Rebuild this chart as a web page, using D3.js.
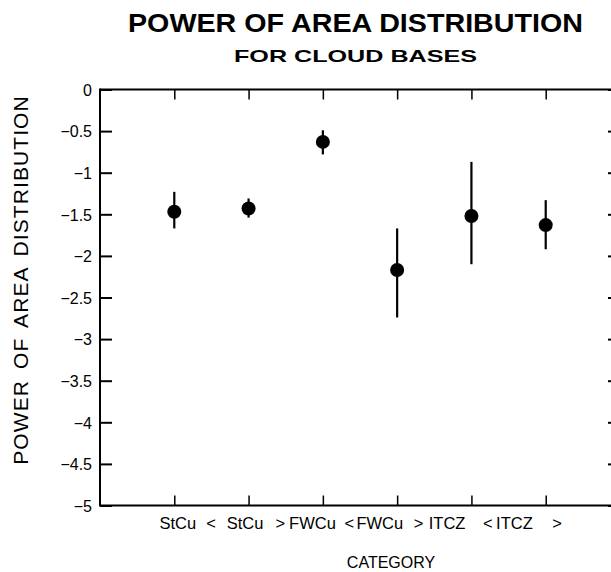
<!DOCTYPE html>
<html>
<head>
<meta charset="utf-8">
<script src="https://cdn.jsdelivr.net/npm/d3@7"></script>
<style>
  html, body { margin: 0; padding: 0; background: #fff; }
  svg { display: block; font-family: "Liberation Sans", Arial, Helvetica, sans-serif; }
</style>
</head>
<body>
<svg id="chart" width="611" height="572"></svg>
<script>
// ---- Data ----
const categories = ["StCu <", "StCu >", "FWCu <", "FWCu >", "ITCZ <", "ITCZ >"];
const powerValues = [-1.47, -1.43, -0.63, -2.17, -1.52, -1.63];
const errorLow    = [-1.67, -1.54, -0.78, -2.74, -2.10, -1.92];
const errorHigh   = [-1.23, -1.31, -0.49, -1.67, -0.87, -1.33];
const yTickValues = [0, -0.5, -1, -1.5, -2, -2.5, -3, -3.5, -4, -4.5, -5];
const titleText = "POWER OF AREA DISTRIBUTION";
const subtitleText = "FOR CLOUD BASES";
const yAxisTitle = "POWER OF AREA DISTRIBUTION";
const xAxisTitle = "CATEGORY";

(function () {
// ---- Layout ----
const svg = d3.select("#chart");
const pLeft = 100, pRight = 620, pTop = 89.5, pBottom = 505.5;

const x = d3.scaleLinear().domain([0, categories.length + 1]).range([pLeft, pRight]);
const y = d3.scaleLinear().domain([0, -5]).range([pTop, pBottom]);
// the typeset category labels sit slightly off the ticks: name and symbol placed separately
const nameX = d3.scalePoint().domain(categories).range([177.8, 514.4]);
const symX = d3.scalePoint().domain(categories).range([211, 557]);

const fmt = v => (v < 0 ? "\u2212" : "") + d3.format("")(Math.abs(v));

// Frame lines
const frame = svg.append("g").attr("stroke", "#000").attr("stroke-width", 2).attr("fill", "none");
frame.append("line").attr("x1", pLeft).attr("x2", pRight).attr("y1", pTop).attr("y2", pTop);
frame.append("line").attr("x1", pLeft).attr("x2", pRight).attr("y1", pBottom).attr("y2", pBottom);
frame.append("line").attr("x1", pLeft).attr("x2", pLeft).attr("y1", pTop - 1).attr("y2", pBottom + 1);
frame.append("line").attr("x1", pRight).attr("x2", pRight).attr("y1", pTop).attr("y2", pBottom);

// Left axis (ticks inward)
const yAxisL = d3.axisLeft(y).tickValues(yTickValues).tickSize(-12).tickPadding(8).tickFormat(fmt);
const gL = svg.append("g").attr("transform", `translate(${pLeft},0)`).call(yAxisL)
  .attr("font-size", 16).attr("font-family", "Liberation Sans, Arial, sans-serif");
gL.select(".domain").remove();
gL.selectAll(".tick line").attr("stroke", "#000").attr("stroke-width", 2);
gL.selectAll(".tick text").attr("fill", "#000").attr("dy", "0.36em");

// Right axis (ticks inward, no labels)
const yAxisR = d3.axisRight(y).tickValues(yTickValues).tickSize(-12).tickFormat("");
const gR = svg.append("g").attr("transform", `translate(${pRight},0)`).call(yAxisR);
gR.select(".domain").remove();
gR.selectAll(".tick line").attr("stroke", "#000").attr("stroke-width", 2);

// Top axis ticks
const catIdx = categories.map((c, i) => i + 1);
const xAxisT = d3.axisTop(x).tickValues(catIdx).tickSize(-10).tickFormat("");
const gT = svg.append("g").attr("transform", `translate(0,${pTop})`).call(xAxisT);
gT.select(".domain").remove();
gT.selectAll(".tick line").attr("stroke", "#000").attr("stroke-width", 1.5);

// Bottom axis ticks
const xAxisB = d3.axisBottom(x).tickValues(catIdx).tickSize(-10).tickFormat("");
const gB = svg.append("g").attr("transform", `translate(0,${pBottom})`).call(xAxisB);
gB.select(".domain").remove();
gB.selectAll(".tick line").attr("stroke", "#000").attr("stroke-width", 1.5);

// Category labels: name and comparison symbol
const lab = svg.append("g").attr("font-size", 16.5).attr("text-anchor", "middle");
lab.selectAll("text.name").data(categories).join("text").attr("class", "name")
  .attr("x", d => nameX(d)).attr("y", 529)
  .text(d => d.split(" ")[0]);
lab.selectAll("text.sym").data(categories).join("text").attr("class", "sym")
  .attr("x", d => symX(d)).attr("y", 529)
  .text(d => d.split(" ")[1]);

// Error bars
const rows = categories.map((c, i) => ({ c, i, v: powerValues[i], lo: errorLow[i], hi: errorHigh[i] }));
svg.append("g").selectAll("line").data(rows).join("line")
  .attr("x1", d => x(d.i + 1)).attr("x2", d => x(d.i + 1))
  .attr("y1", d => y(d.hi)).attr("y2", d => y(d.lo))
  .attr("stroke", "#000").attr("stroke-width", 2.2);

// Points
svg.append("g").selectAll("circle").data(rows).join("circle")
  .attr("cx", d => x(d.i + 1)).attr("cy", d => y(d.v)).attr("r", 7)
  .attr("fill", "#000");

// Titles
svg.append("text").attr("x", 355.5).attr("y", 32).attr("text-anchor", "middle")
  .attr("font-size", 26).attr("font-weight", "bold")
  .attr("textLength", 455).attr("lengthAdjust", "spacingAndGlyphs")
  .text(titleText);
svg.append("text").attr("x", 355.5).attr("y", 62).attr("text-anchor", "middle")
  .attr("font-size", 17).attr("font-weight", "bold")
  .attr("textLength", 243).attr("lengthAdjust", "spacingAndGlyphs")
  .text(subtitleText);

// Y axis title
svg.append("text").attr("transform", "translate(28,280) rotate(-90)")
  .attr("text-anchor", "middle").attr("font-size", 21)
  .attr("letter-spacing", 1.1)
  .attr("word-spacing", 4)
  .text(yAxisTitle);

// X axis title
svg.append("text").attr("x", 391).attr("y", 568).attr("text-anchor", "middle")
  .attr("font-size", 16).text(xAxisTitle);
})();
</script>
</body>
</html>
